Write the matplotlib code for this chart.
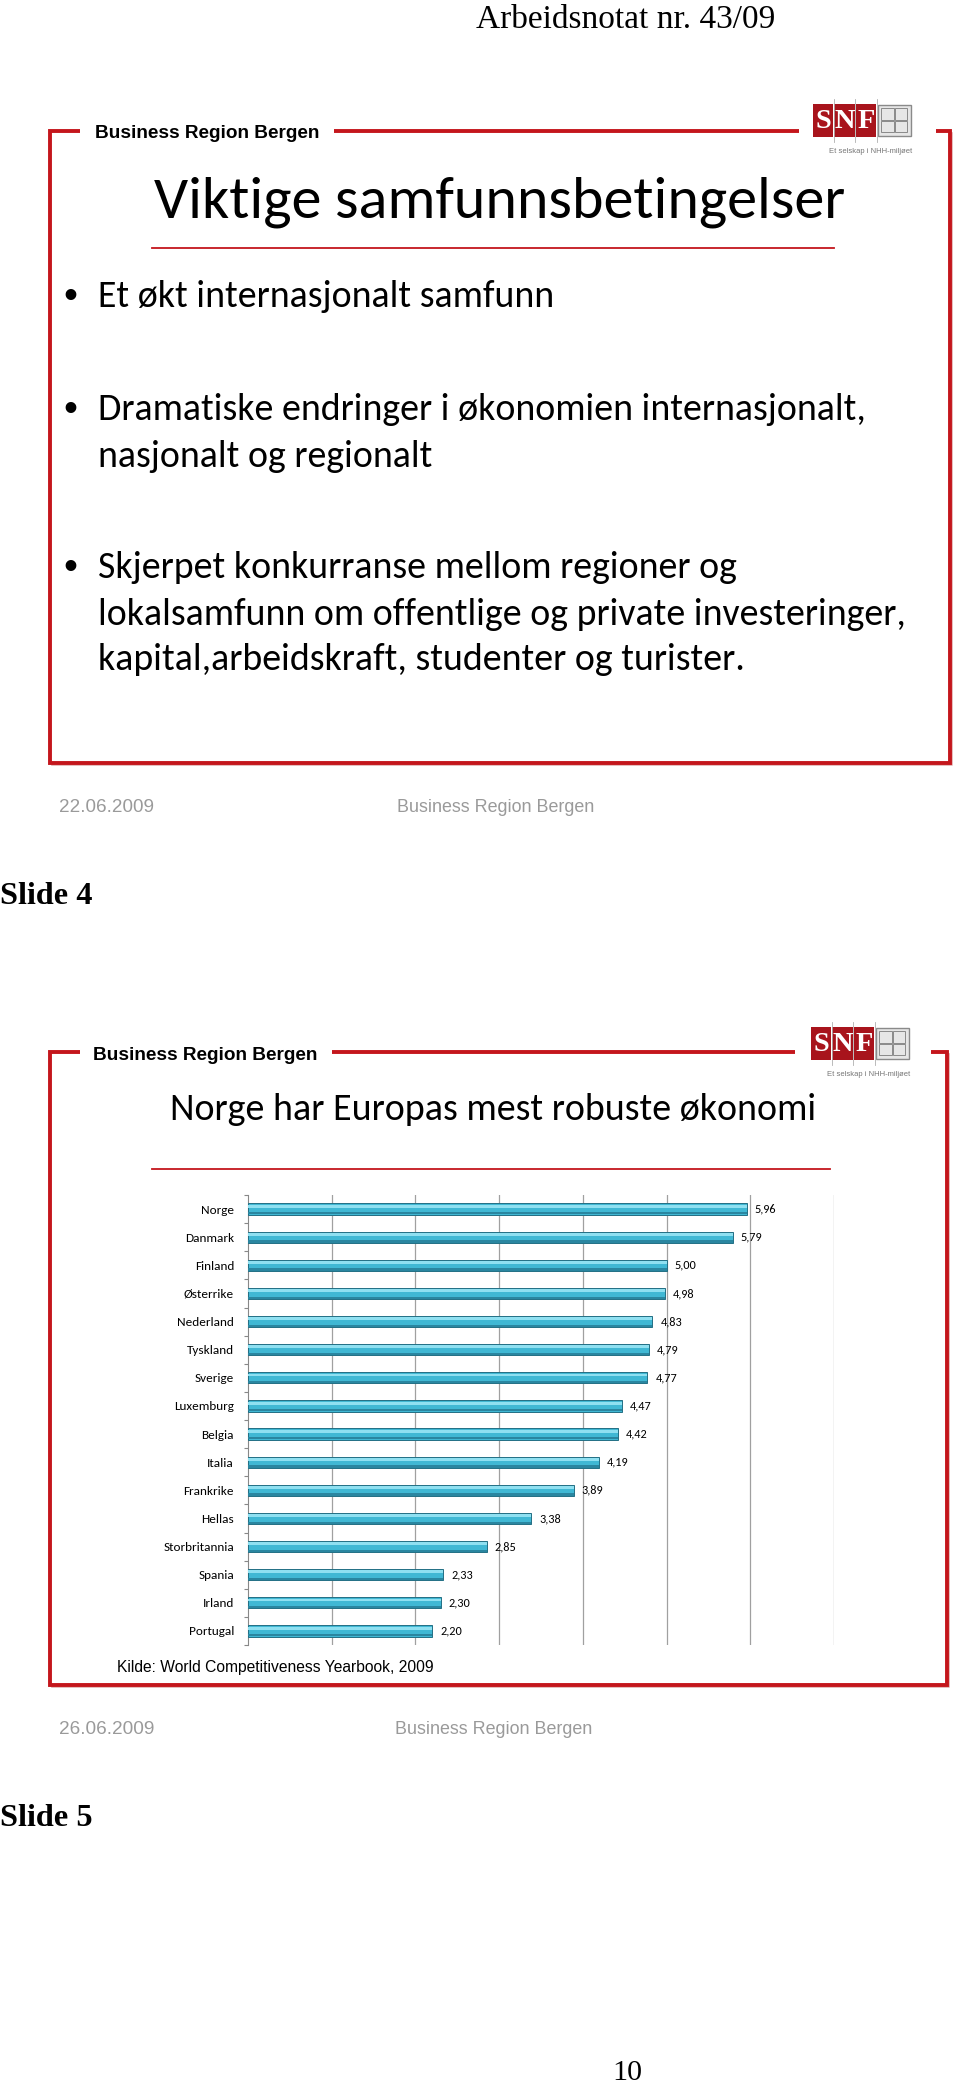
import matplotlib
matplotlib.use('Agg')
import numpy as np
import matplotlib.pyplot as plt
from matplotlib import font_manager as fm
from matplotlib.patches import Rectangle


def pick(*names):
    for n in names:
        try:
            fm.findfont(fm.FontProperties(family=n), fallback_to_default=False)
            return n
        except ValueError:
            pass
    return 'DejaVu Sans'


SLIDE_FONT = pick('Carlito', 'Lato', 'Open Sans')
SERIF = pick('Liberation Serif', 'DejaVu Serif')
ARIAL = pick('Liberation Sans', 'DejaVu Sans')

# chart data (slide 5)
countries = ['Norge', 'Danmark', 'Finland', 'Østerrike', 'Nederland', 'Tyskland', 'Sverige',
             'Luxemburg', 'Belgia', 'Italia', 'Frankrike', 'Hellas', 'Storbritannia',
             'Spania', 'Irland', 'Portugal']
values = [5.96, 5.79, 5.00, 4.98, 4.83, 4.79, 4.77, 4.47, 4.42, 4.19, 3.89, 3.38, 2.85,
          2.33, 2.30, 2.20]

# slide texts
page_header = 'Arbeidsnotat nr. 43/09'
brand = 'Business Region Bergen'
title1 = 'Viktige samfunnsbetingelser'
bullets = [['Et økt internasjonalt samfunn'],
           ['Dramatiske endringer i økonomien internasjonalt,', 'nasjonalt og regionalt'],
           ['Skjerpet konkurranse mellom regioner og',
            'lokalsamfunn om offentlige og private investeringer,',
            'kapital,arbeidskraft, studenter og turister.']]
title2 = 'Norge har Europas mest robuste økonomi'
source = 'Kilde: World Competitiveness Yearbook, 2009'
dates = ['22.06.2009', '26.06.2009']
slide_names = ['Slide 4', 'Slide 5']
page_no = '10'

RED = '#c4161c'
GREY = '#9a9a9a'

W, H = 960, 2083
fig = plt.figure(figsize=(9.6, 20.83), dpi=100)
bg = fig.add_axes([0, 0, 1, 1])
bg.set_xlim(0, W)
bg.set_ylim(H, 0)
bg.axis('off')
renderer = fig.canvas.get_renderer()


def fit(x, y, s, width, **kw):
    # draw text and scale its size so it spans `width` pixels
    t = bg.text(x, y, s, fontsize=10, va='baseline', **kw)
    w = t.get_window_extent(renderer).width
    t.set_fontsize(10 * width / w)
    return t


def size_for(s, width, **kw):
    t = bg.text(0, 0, s, fontsize=10, **kw)
    w = t.get_window_extent(renderer).width
    t.remove()
    return 10 * width / w


def frame(top, bottom, left, right, seg1, seg2, seg3):
    lw = 2.8
    # faint shadow first, then the red border
    bg.plot([left + 2, right + 2, right + 2], [bottom + 2, bottom + 2, top + 2],
            color='#e2b0b0', lw=1.2)
    bg.plot([seg1, left, left, right, right, seg3], [top, top, bottom, bottom, top, top],
            color=RED, lw=lw, solid_joinstyle='miter', solid_capstyle='butt')
    bg.plot(seg2, [top, top], color=RED, lw=lw, solid_capstyle='butt')


def logo(x0, y0, h):
    bw = h * 0.62
    for k, ch in enumerate('SNF'):
        bg.add_patch(Rectangle((x0 + k * (bw + 1), y0), bw, h, fc='#a8141c', ec='none'))
        bg.plot([x0 + k * (bw + 1) + bw + 0.5] * 2, [y0 - 5, y0 + h + 5], color='#b0b0b0', lw=0.6)
        bg.text(x0 + k * (bw + 1) + bw / 2, y0 + h * 0.52, ch, color='white', family=SERIF,
                fontweight='bold', fontsize=h * 0.62, ha='center', va='center')
    gx = x0 + 3 * (bw + 1) + 1
    gw = h * 1.0
    bg.add_patch(Rectangle((gx, y0 + 1), gw, h - 2, fc='#e6e6e6', ec='#8a8a8a', lw=1))
    for i in range(2):
        for j in range(2):
            bg.add_patch(Rectangle((gx + 3 + i * (gw - 6) / 2, y0 + 4 + j * (h - 8) / 2),
                                   (gw - 8) / 2, (h - 10) / 2, fc='none', ec='#8a8a8a', lw=0.7))
    fit(x0 + 16, y0 + h + 16, 'Et selskap i NHH-miljøet', gw + 3 * bw - 12, family=ARIAL,
        color='#777777')


# page header
fit(476, 28, page_header, 298, family=SERIF, color='black')

# ---------- slide 4 ----------
frame(131, 763, 50, 950, 80, [334, 799], 936)
fit(95, 138, brand, 225, family=ARIAL, fontweight='bold', color='black')
logo(813, 104, 33)
fit(154, 217, title1, 694, family=SLIDE_FONT, color='black')
bg.plot([152, 834], [248, 248], color=RED, lw=1.3)

bsize = size_for(bullets[2][1], 811, family=SLIDE_FONT)
baselines = [[307], [420, 467], [578, 625, 670]]
for lines, ys in zip(bullets, baselines):
    bg.text(70, ys[0] - 10, '•', fontsize=bsize * 1.05, family=ARIAL, ha='center', va='center',
            color='black')
    for s, y in zip(lines, ys):
        bg.text(98, y, s, fontsize=bsize, family=SLIDE_FONT, va='baseline', color='black')

fit(59, 812, dates[0], 95, family=ARIAL, color=GREY)
fit(397, 812, brand, 197, family=ARIAL, color=GREY)
fit(0, 904, slide_names[0], 93, family=SERIF, fontweight='bold', color='black')

# ---------- slide 5 ----------
frame(1052, 1685, 50, 947, 80, [332, 795], 931)
fit(93, 1060, brand, 225, family=ARIAL, fontweight='bold', color='black')
logo(811, 1027, 33)
fit(170, 1120, title2, 649, family=SLIDE_FONT, color='black')
bg.plot([152, 830], [1169, 1169], color=RED, lw=1.3)

ax = fig.add_axes([248 / W, 1 - 1645 / H, (834 - 248) / W, 450 / H])
ax.patch.set_alpha(0)
ypos = np.arange(len(countries))
ax.barh(ypos, values, height=0.4, color='#40b8d4', edgecolor='#236f84', linewidth=0.7, zorder=3)
ax.barh(ypos - 0.1, values, height=0.1, color='#8fe0f1', linewidth=0, zorder=4)
ax.barh(ypos + 0.15, values, height=0.08, color='#2a86a0', linewidth=0, zorder=4)
ax.set_xlim(0, 7)
ax.set_ylim(len(countries) - 0.5, -0.5)
ax.set_xticks(range(1, 8))
ax.xaxis.grid(True, color='#a0a0a0', lw=0.9)
ax.tick_params(axis='x', length=0, labelbottom=False)
ax.set_yticks(ypos)
ax.set_yticklabels(countries, fontsize=9.5, family=SLIDE_FONT)
ax.set_yticks(np.arange(-0.5, len(countries), 1), minor=True)
ax.tick_params(axis='y', which='major', length=0, pad=10)
ax.tick_params(axis='y', which='minor', length=3, color='#888888', width=0.8)
for side in ['top', 'right', 'bottom']:
    ax.spines[side].set_visible(False)
ax.spines['left'].set_color('#888888')
for i, v in enumerate(values):
    ax.annotate(f'{v:.2f}'.replace('.', ','), (v, i), xytext=(8, 0), textcoords='offset pixels',
                va='center', ha='left', fontsize=8.8, family=SLIDE_FONT)

fit(117, 1672, source, 318, family=ARIAL, color='black')
fit(59, 1734, dates[1], 95, family=ARIAL, color=GREY)
fit(395, 1734, brand, 197, family=ARIAL, color=GREY)
fit(0, 1826, slide_names[1], 93, family=SERIF, fontweight='bold', color='black')
fit(612, 2080, page_no, 30, family=SERIF, color='black')

fig.savefig('out.png', dpi=100, facecolor='white')
